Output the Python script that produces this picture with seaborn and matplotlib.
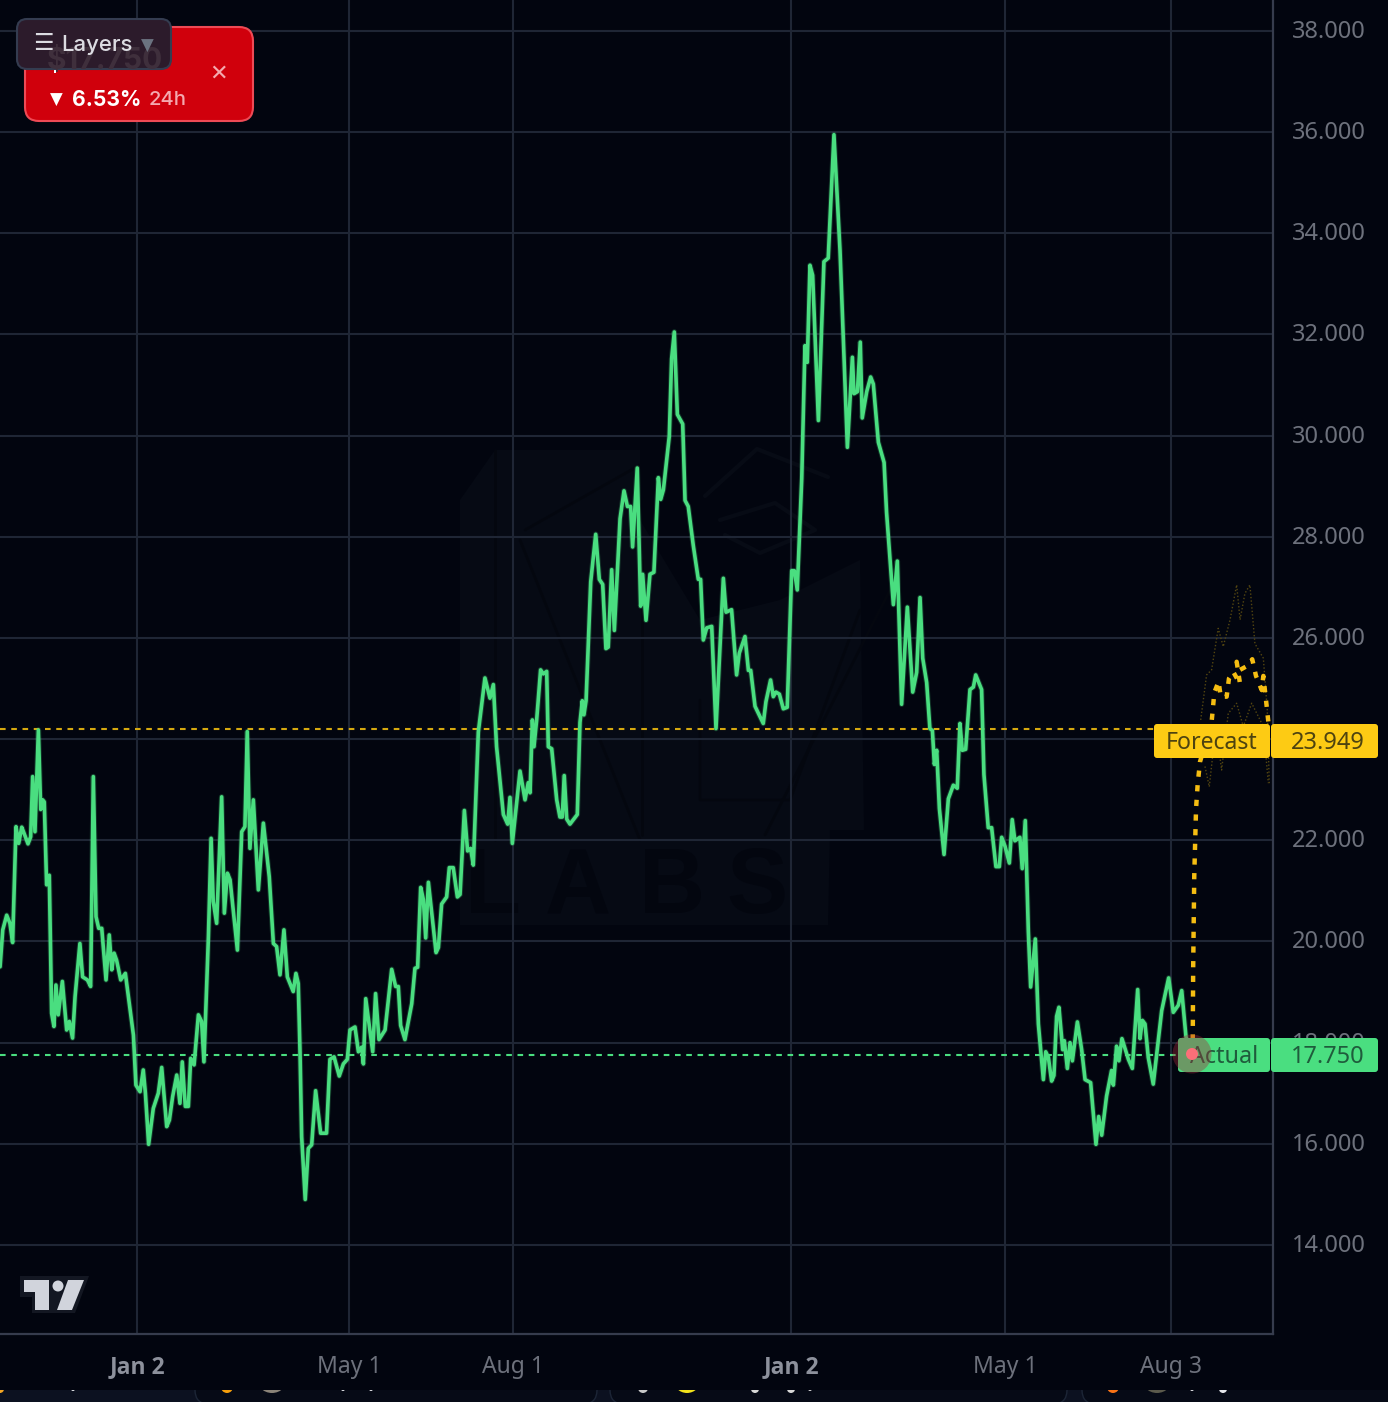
import matplotlib
matplotlib.use("Agg")
import matplotlib.pyplot as plt
import matplotlib.transforms as mtrans
from matplotlib.patches import Circle, FancyBboxPatch, Polygon, Rectangle
import pandas as pd
import seaborn as sns

# -------- DATA (x = days since the first Jan 2) --------

actual_days = [
    -76.5, -75.0, -72.8, -71.0, -69.5, -67.6, -66.1, -64.4, -63.1, -60.9, -59.4, -58.3, -57.0, -55.1, -53.8, -52.7,
    -51.8, -50.5, -49.0, -47.7, -46.4, -45.3, -44.0, -41.7, -39.3, -37.8, -36.0, -34.6, -31.9, -30.4, -27.7, -25.9,
    -24.4, -22.9, -21.4, -19.7, -17.3, -15.5, -14.1, -12.8, -11.4, -9.1, -6.5, -4.8, -2.0, -0.6, 1.7, 3.5,
    4.7, 6.5, 9.1, 11.9, 13.8, 16.6, 18.1, 19.9, 22.2, 24.0, 25.3, 27.0, 28.7, 30.0, 31.9, 34.3,
    36.1, 37.4, 39.9, 41.4, 42.6, 44.5, 47.3, 48.8, 50.5, 52.0, 56.1, 58.5, 60.3, 61.6, 63.1, 65.0,
    67.8, 70.6, 73.9, 76.2, 78.0, 79.9, 82.1, 84.0, 87.3, 88.8, 90.1, 91.1, 92.0, 94.0, 95.7, 97.6,
    99.8, 102.6, 105.9, 107.8, 110.1, 113.0, 115.3, 117.5, 119.0, 121.8, 123.7, 125.5, 126.5, 127.8, 129.6, 131.7,
    133.3, 135.2, 138.6, 142.3, 144.5, 146.0, 147.3, 149.7, 153.5, 155.3, 156.8, 158.5, 160.0, 161.3, 162.8, 167.1,
    168.4, 170.2, 173.0, 174.5, 176.7, 179.0, 180.5, 182.9, 184.7, 186.4, 187.9, 190.7, 194.4, 197.2, 199.1, 200.9,
    204.7, 207.1, 208.4, 209.7, 214.0, 216.8, 218.6, 219.6, 220.9, 221.8, 223.3, 225.5, 227.0, 228.9, 229.8, 231.7,
    234.5, 236.3, 237.6, 238.7, 240.1, 241.9, 246.0, 247.5, 248.8, 249.7, 250.9, 253.5, 256.3, 258.3, 260.2, 262.0,
    263.3, 265.2, 266.7, 269.9, 272.1, 274.0, 275.8, 276.9, 279.5, 281.4, 282.5, 284.4, 286.6, 288.8, 291.3, 292.6,
    294.1, 297.4, 298.7, 300.2, 301.9, 304.9, 306.2, 308.0, 310.8, 313.6, 314.9, 316.4, 318.3, 321.1, 323.5, 327.6,
    329.1, 332.2, 335.0, 336.5, 339.7, 341.6, 342.9, 345.3, 349.9, 351.4, 354.0, 355.5, 357.0, 358.9, 361.1, 363.3,
    365.8, 367.3, 368.9, 371.4, 373.2, 374.5, 376.0, 377.5, 380.7, 383.8, 386.2, 389.4, 392.8, 396.9, 399.7, 400.6,
    402.5, 404.1, 405.2, 407.7, 409.9, 411.4, 414.2, 417.4, 418.8, 422.6, 424.8, 427.2, 430.4, 433.4, 435.6, 437.5,
    439.0, 441.2, 443.0, 444.4, 445.5, 446.8, 448.3, 450.9, 453.3, 456.1, 458.3, 459.8, 461.1, 463.0, 465.4, 467.3,
    468.6, 471.9, 473.2, 475.6, 477.5, 479.9, 481.8, 483.1, 485.0, 487.4, 489.0, 490.5, 493.3, 494.6, 496.3, 498.0,
    499.3, 501.9, 503.6, 506.4, 507.7, 509.2, 511.0, 512.3, 513.8, 515.1, 517.2, 518.1, 519.8, 521.3, 522.6, 525.4,
    527.8, 529.7, 532.8, 535.8, 537.3, 539.0, 541.7, 544.5, 545.5, 547.3, 548.6, 550.3, 553.9, 556.1, 559.1, 560.4,
    561.7, 563.2, 565.0, 567.8, 572.5, 576.4, 579.0, 581.8, 583.7, 586.1, 589.8,
]
actual_price = [
    19.50, 20.23, 20.52, 20.36, 19.98, 22.27, 21.94, 22.26, 22.14, 21.93, 22.07, 23.26, 22.17, 24.18, 22.61, 22.80,
    22.76, 21.12, 21.31, 18.58, 18.32, 19.14, 18.55, 19.21, 18.25, 18.42, 18.09, 18.91, 19.96, 19.30, 19.24, 19.11,
    23.26, 20.49, 20.26, 20.26, 19.24, 20.13, 19.44, 19.77, 19.63, 19.24, 19.37, 18.91, 18.15, 17.16, 17.03, 17.46,
    17.00, 15.99, 16.70, 17.00, 17.51, 16.34, 16.47, 16.93, 17.36, 16.80, 17.62, 16.74, 16.74, 17.69, 17.56, 18.55,
    18.42, 17.62, 20.09, 22.04, 20.79, 20.36, 22.86, 20.56, 21.35, 21.22, 19.83, 22.17, 22.27, 24.15, 21.84, 22.80,
    21.02, 22.34, 21.28, 19.96, 19.90, 19.34, 20.23, 19.30, 19.01, 19.37, 19.17, 17.79, 16.14, 14.90, 15.91, 15.98,
    17.05, 16.21, 16.21, 17.67, 17.72, 17.34, 17.58, 17.67, 18.25, 18.31, 17.82, 17.91, 17.58, 18.87, 18.39, 17.82,
    18.97, 18.06, 18.25, 19.45, 19.11, 19.11, 18.34, 18.06, 18.77, 19.47, 19.49, 21.07, 20.83, 20.07, 21.17, 19.78,
    19.88, 20.74, 20.88, 21.46, 21.46, 20.88, 20.93, 22.59, 21.79, 21.84, 21.51, 24.14, 25.21, 24.81, 25.08, 23.85,
    22.51, 22.32, 22.85, 21.94, 23.37, 22.80, 23.14, 22.94, 24.38, 23.85, 24.38, 25.37, 25.29, 25.34, 23.85, 23.81,
    22.80, 22.46, 22.46, 23.28, 22.42, 22.32, 22.51, 24.33, 24.76, 24.48, 24.76, 27.11, 28.05, 27.16, 27.06, 25.79,
    25.82, 27.35, 26.15, 28.36, 28.91, 28.60, 28.60, 27.80, 29.36, 26.63, 27.26, 26.35, 27.26, 27.30, 29.17, 28.74,
    28.93, 29.99, 31.52, 32.05, 30.42, 30.23, 28.72, 28.60, 27.83, 27.16, 27.16, 25.96, 26.20, 26.23, 24.21, 27.18,
    26.51, 26.56, 25.27, 25.70, 26.03, 25.36, 25.36, 24.65, 24.31, 24.74, 25.17, 24.84, 24.93, 24.89, 24.60, 24.63,
    27.33, 27.33, 26.95, 29.15, 31.78, 31.45, 33.37, 33.17, 30.30, 33.44, 33.51, 35.95, 33.65, 29.77, 31.55, 30.83,
    30.87, 31.85, 30.35, 30.87, 31.16, 31.02, 29.87, 29.47, 28.48, 26.66, 27.52, 24.69, 26.61, 24.93, 25.32, 26.80,
    25.60, 25.12, 24.21, 24.17, 23.50, 23.78, 22.63, 21.72, 22.82, 23.09, 23.03, 24.31, 23.78, 23.80, 24.98, 25.03,
    25.27, 24.98, 23.30, 22.25, 22.25, 21.48, 21.48, 22.06, 21.88, 21.55, 22.41, 21.99, 22.06, 21.44, 22.39, 20.20,
    19.10, 20.05, 18.37, 17.27, 17.82, 17.71, 17.24, 17.35, 18.52, 18.70, 17.86, 18.04, 17.49, 18.00, 17.64, 18.41,
    17.86, 17.27, 17.21, 15.99, 16.54, 16.17, 16.94, 17.45, 17.16, 17.93, 17.64, 18.08, 17.67, 17.49, 19.05, 18.08,
    18.44, 18.37, 17.71, 17.18, 18.63, 19.28, 18.60, 18.74, 19.03, 18.11, 17.75,
]

forecast_days = [589.8, 590.1, 590.7, 591.7, 592.6, 593.9, 600.4, 601.2, 601.9, 604.3, 605.5, 608.8, 610.1, 612.5,
                 616.3, 614.4, 616.3, 620.4, 623.1, 625.2, 628.4, 629.3, 631.2, 632.1]
forecast_price = [17.75, 19.47, 21.29, 22.62, 23.10, 23.55, 24.34, 24.64, 24.92, 25.14, 24.84, 24.84, 25.20, 25.33,
                  25.09, 25.53, 25.37, 25.45, 25.58, 25.25, 24.97, 25.25, 24.64, 24.34]

upper_days = [594.3, 597.6, 600.4, 604.1, 606.9, 610.7, 614.4, 616.3, 619.0, 621.8, 624.6, 629.3, 631.5, 632.6]
upper_price = [24.38, 25.27, 25.37, 26.19, 25.83, 26.36, 27.05, 26.36, 26.88, 27.05, 25.89, 25.60, 24.58, 23.13]
lower_days = [596.7, 599.1, 602.8, 606.0, 609.7, 614.4, 618.1, 622.8, 629.3, 632.1]
lower_price = [23.46, 23.06, 24.25, 23.39, 24.51, 24.71, 24.25, 24.71, 24.25, 23.13]

tick_days = [0, 118.4, 210.2, 365.4, 484.9, 577.7]
tick_names = ["Jan 2", "May 1", "Aug 1", "Jan 2", "May 1", "Aug 3"]
price_ticks = [14, 16, 18, 20, 22, 24, 26, 28, 30, 32, 34, 36, 38]

forecast_level = 24.2
forecast_label = "23.949"
actual_level = 17.75
actual_label = "17.750"

# -------- STYLE --------

BG = "#02050f"
GRID = "#1f2635"
BORDER = "#363c4d"
GREEN = "#4ade80"
YELLOW = "#fdcb14"
TICK = "#6d717c"

sns.set_theme(style="dark", rc={"axes.facecolor": BG, "figure.facecolor": BG})
plt.rcParams["font.family"] = ["Noto Sans", "DejaVu Sans"]

fig = plt.figure(figsize=(13.88, 14.02), dpi=100)
ax = fig.add_axes([0, 68 / 1402, 1273 / 1388, 1334 / 1402])
# pixel coordinates of the picture, only for the overlays
px = mtrans.Affine2D().scale(1, -1).translate(0, 1402)


def box(x0, y0, x1, y1, color, edge="none", lw=0, r=3, z=10, alpha=None):
    p = FancyBboxPatch((x0 + r, y0 + r), x1 - x0 - 2 * r, y1 - y0 - 2 * r, boxstyle=f"round,pad={r},rounding_size={r}",
                       fc=color, ec=edge, lw=lw, transform=px, zorder=z, clip_on=False, alpha=alpha)
    ax.add_patch(p)
    return p


def label(x, y, s, **kw):
    kw.setdefault("ha", "center")
    kw.setdefault("va", "center")
    kw.setdefault("zorder", 12)
    return ax.text(x, y, s, transform=px, clip_on=False, **kw)


# -------- WATERMARK --------

WM = "#060a14"
WM_DARK = "#04070f"
ax.add_patch(Polygon([(460, 500), (495, 450), (640, 450), (640, 520), (700, 620), (780, 600), (860, 560), (864, 830),
                      (830, 830), (828, 925), (790, 925), (460, 925)],
                     fc=WM, ec="none", transform=px, zorder=0.4))
for seg in [[(495, 450), (495, 840)], [(520, 540), (640, 840)], [(640, 465), (525, 530)], [(642, 560), (642, 835)],
            [(700, 700), (700, 800), (790, 800), (860, 610)], [(765, 835), (890, 590)]]:
    xs, ys = zip(*seg)
    ax.plot(xs, ys, color=WM_DARK, lw=2, transform=px, zorder=0.45)
for seg in [[(705, 496), (757, 449), (828, 477)], [(720, 520), (775, 503), (815, 530), (760, 553), (725, 535)]]:
    xs, ys = zip(*seg)
    ax.plot(xs, ys, color="#070b15", lw=3, transform=px, zorder=0.45)
for cx, ch in zip([493, 578, 672, 757], "LABS"):
    label(cx, 889, ch, color="#03060f", fontsize=66, fontweight="bold", zorder=0.5, family="Liberation Sans")

# -------- CHART --------

actual_df = pd.DataFrame({"day": actual_days, "price": actual_price})
forecast_df = pd.DataFrame({"day": forecast_days, "price": forecast_price})
upper_df = pd.DataFrame({"day": upper_days, "price": upper_price})
lower_df = pd.DataFrame({"day": lower_days, "price": lower_price})

ax.axhline(forecast_level, color="#d6a90f", lw=1.5, linestyle=(0, (2.7, 2.7)), zorder=2)
ax.axhline(actual_level, color=GREEN, lw=1.5, linestyle=(0, (2.7, 2.7)), zorder=2)

for band in [upper_df, lower_df]:
    sns.lineplot(data=band, x="day", y="price", estimator=None, sort=False, ax=ax, color="#544610", lw=1.0,
                 linestyle=(0, (1, 1.5)), zorder=2.2)
# soft edge round the line, the screenshot is slightly blurred
sns.lineplot(data=actual_df, x="day", y="price", estimator=None, sort=False, ax=ax, color=GREEN, lw=4.0, alpha=0.22,
             zorder=2.9)
sns.lineplot(data=actual_df, x="day", y="price", estimator=None, sort=False, ax=ax, color=GREEN, lw=2.6, zorder=3)
sns.lineplot(data=forecast_df, x="day", y="price", estimator=None, sort=False, ax=ax, color="#f5bd12", lw=3.2,
             linestyle=(0, (1.4, 1.9)), zorder=3.2)

ax.set_xlim(-76.54, 634.7)
ax.set_ylim(12.24, 38.613)
ax.set_xticks(tick_days, tick_names)
ax.set_yticks(price_ticks, [f"{v}.000" for v in price_ticks])
ax.yaxis.tick_right()
ax.set_xlabel("")
ax.set_ylabel("")
ax.set_axisbelow(True)
ax.grid(True, color=GRID, lw=1.5)
ax.tick_params(axis="x", length=0, pad=15, labelsize=16.5, labelcolor=TICK)
ax.tick_params(axis="y", length=0, pad=13.5, labelsize=17, labelcolor=TICK)
up_2px = mtrans.Affine2D().translate(0, 2)
for t in ax.get_yticklabels():
    t.set_ha("left")
    t.set_transform(t.get_transform() + up_2px)
for i in [0, 3]:
    ax.get_xticklabels()[i].set_color("#8d919c")
    ax.get_xticklabels()[i].set_family("Open Sans")
    ax.get_xticklabels()[i].set_fontweight("bold")
    ax.get_xticklabels()[i].set_fontsize(16.5)
for side in ["top", "left"]:
    ax.spines[side].set_visible(False)
for side in ["right", "bottom"]:
    ax.spines[side].set_color(BORDER)
    ax.spines[side].set_linewidth(1.6)

# -------- PRICE LABELS --------

box(1154, 724, 1270, 758, YELLOW)
box(1271, 724, 1378, 758, YELLOW)
label(1258, 743, "Forecast", color="#4d4310", fontsize=16.6, ha="right")
label(1365, 743, forecast_label, color="#4d4310", fontsize=17, ha="right")

box(1178, 1038, 1270, 1072, GREEN)
box(1271, 1038, 1378, 1072, GREEN)
label(1258, 1057, "Actual", color="#1f5c3c", fontsize=16.8, ha="right")
label(1365, 1057, actual_label, color="#1f5c3c", fontsize=17, ha="right")
ax.add_patch(Circle((1192, 1054), 19.5, fc="#a32a3a", alpha=0.38, ec="none", transform=px, zorder=12.5, clip_on=False))
ax.add_patch(Circle((1192, 1054), 6, fc="#fb6f78", ec="none", transform=px, zorder=13, clip_on=False))

# -------- TICKER CARD AND LAYERS BUTTON --------

box(25, 27, 253, 121, "#d0000c", edge="#ee4a55", lw=1.5, r=14, z=20)
ax.add_patch(Rectangle((54, 69), 2, 4, fc="white", ec="none", transform=px, zorder=21))
label(56, 100, "▼", color="white", fontsize=12, family="DejaVu Sans", zorder=21)
label(72, 100, "6.53%", color="white", fontsize=15.2, fontweight="bold", family="Inter", ha="left", zorder=21)
label(149, 100, "24h", color="#f4a9af", fontsize=14.5, fontweight="medium", family="Inter", ha="left", zorder=21)
label(218, 74, "✕", color="#f4a9af", fontsize=16, family="DejaVu Sans", zorder=21)

box(17, 19, 171, 69, "#2c1b2b", edge="#343c50", lw=1.5, r=10, z=22)
label(47, 61, "$17.750", color="#3f2f3c", fontsize=21.5, fontweight="bold", family="Inter", ha="left", zorder=23)
label(43, 44, "☰", color="#dcdce2", fontsize=16.5, fontweight="bold", family="DejaVu Sans", zorder=24)
label(61, 45, "Layers", color="#dcdce2", fontsize=16, fontweight="medium", family="Inter", ha="left", zorder=24)
label(147, 46, "▼", color="#6b7280", fontsize=12, family="DejaVu Sans", zorder=24)

# -------- TRADINGVIEW MARK --------

ax.add_patch(Polygon([(20, 1276), (89, 1276), (75, 1313), (32, 1313), (32, 1297), (20, 1297)],
                     fc="#131722", ec="none", transform=px, zorder=5))
ax.add_patch(Polygon([(24, 1280), (49, 1280), (49, 1310), (35, 1310), (35, 1292), (24, 1292)],
                     fc="#d1d4dc", ec="none", transform=px, zorder=6))
ax.add_patch(Polygon([(68, 1280), (84, 1280), (72, 1310), (57, 1310)], fc="#d1d4dc", ec="none", transform=px, zorder=6))
ax.add_patch(Circle((58, 1286), 5.5, fc="#d1d4dc", ec="none", transform=px, zorder=6))

# -------- BOTTOM STRIP --------

ax.add_patch(Rectangle((0, 1390), 1388, 12, fc="#0c1120", ec="none", transform=px, zorder=8, clip_on=False))
for x0, x1 in [(195, 597), (610, 1067), (1082, 1500)]:
    panel = box(x0, 1360, x1, 1404, "#060a16", edge="#1c2536", lw=1, r=14, z=8.2)
    panel.set_clip_on(True)
    panel.set_clip_path(Rectangle((0, 1390), 1388, 12, transform=px))
for x, r, c in [(0, 4, "#f5a623"), (73, 2, "#e5e7eb"), (227, 6, "#f59e0b"), (272, 16, "#8a8378"), (343, 2, "#e5e7eb"),
                (371, 2, "#e5e7eb"), (643, 5, "#c8c8c8"), (687, 14, "#f2e21b"), (755, 4, "#d8d8d8"), (791, 4, "#d8d8d8"),
                (810, 2, "#d8d8d8"), (1113, 6, "#f97316"), (1157, 16, "#5b5a4c"), (1192, 2, "#e5e7eb"),
                (1223, 4, "#e5e7eb")]:
    c0 = Circle((x, 1390 - r + 3 if r > 4 else 1389), r, fc=c, ec="none", transform=px, zorder=8.5, clip_on=True)
    ax.add_patch(c0)
    c0.set_clip_path(Rectangle((0, 1390), 1388, 12, transform=px))

fig.savefig("out.png", dpi=100, facecolor=BG)
